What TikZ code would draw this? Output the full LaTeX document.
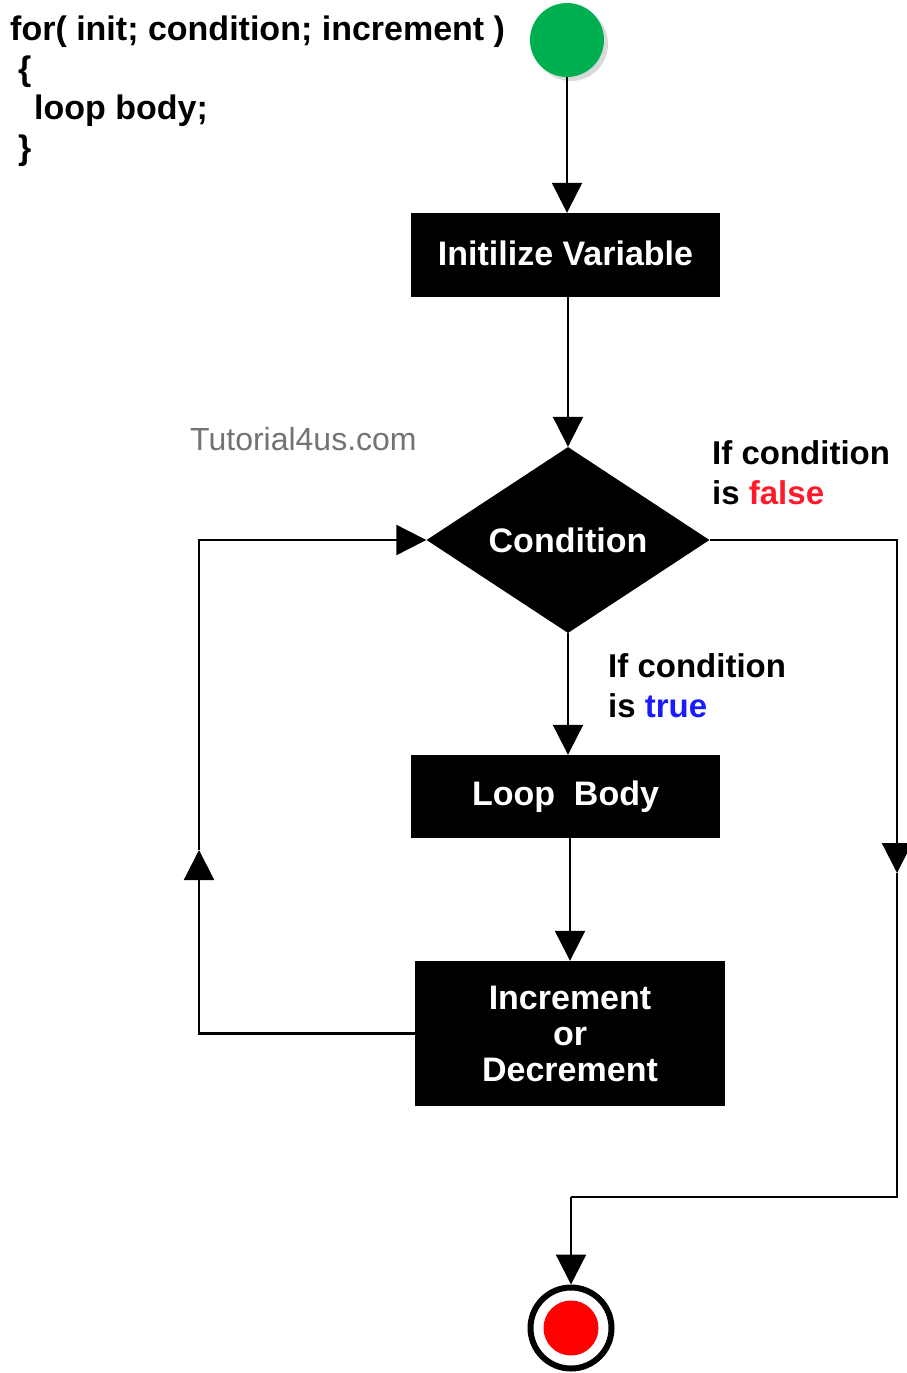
\documentclass[tikz,border=0pt]{standalone}
\usepackage{fontspec}
\setmainfont{Liberation Sans}
\usetikzlibrary{arrows.meta,shapes.geometric,shadows}
\definecolor{startgreen}{HTML}{00B050}
\definecolor{falsered}{HTML}{FF1A2A}
\definecolor{trueblue}{HTML}{1A1AFF}
\newcommand{\boxfont}{\bfseries\fontsize{34}{36}\selectfont}
\newcommand{\lblfont}{\bfseries\fontsize{33}{40}\selectfont}
\tikzset{
    block/.style={rectangle, fill=black, text=white, font=\boxfont, align=center, inner sep=0pt},
    wire/.style={line width=2.2pt},
    flow/.style={wire, -{Triangle[length=30pt,width=30pt]}},
    lbl/.style={font=\lblfont, align=left, inner sep=0pt},
}
\begin{document}
\begin{tikzpicture}[x=1pt, y=-1pt]
            \useasboundingbox (0,0) rectangle (906,1373);

            \node[font=\bfseries\fontsize{34}{39.5}\selectfont, align=left, anchor=north west, inner sep=0pt] (code) at (10,16) {for( init; condition; increment )\\\hspace*{8pt}\{\\\hspace*{24pt}loop body;\\\hspace*{8pt}\}};
            \node[font=\fontsize{32}{38}\selectfont, text=black!55, anchor=base west, inner sep=0pt] (site) at (190,450) {Tutorial4us.com};

            \node[circle, fill=startgreen, minimum size=74pt, drop shadow={shadow xshift=4pt, shadow yshift=-4pt, opacity=0.3}] (start) at (567,40) {};
            \node[block, minimum width=309pt, minimum height=84pt, text depth=4pt] (init) at (565.5,255) {Initilize Variable};
            \node[diamond, fill=black, text=white, font=\boxfont, inner sep=0pt, minimum width=283pt, minimum height=186pt] (cond) at (568,540) {Condition};
            \node[block, minimum width=309pt, minimum height=83pt] (body) at (565.5,796.5) {Loop\ \ Body};
            \node[block, minimum width=310pt, minimum height=145pt] (inc) at (570,1033.5) {Increment\\or\\Decrement};
            \node[circle, draw, line width=6pt, fill=white, minimum size=81pt, drop shadow={shadow xshift=2pt, shadow yshift=-2pt, opacity=0.25}, path picture={\fill[red] (path picture bounding box.center) circle (27.5pt);}] (stop) at (571,1328) {};

            \node[lbl, anchor=north west] (falsetxt) at (712,440) {If condition\\is \textcolor{falsered}{false}};
            \node[lbl, anchor=north west] (truetxt) at (608,653) {If condition\\is \textcolor{trueblue}{true}};

            \coordinate (rt) at (897,540);
            \coordinate (rm) at (897,873);
            \coordinate (rb) at (897,1197);
            \coordinate (eb) at (571,1197);
            \coordinate (lb) at (199,1033.5);
            \coordinate (lm) at (199,850);
            \coordinate (lt) at (199,540);

            \draw[flow] (start.south) -- (start.south |- init.north);
            \draw[flow] (init.south -| cond.north) -- (cond.north);
            \draw[flow] (cond.south) -- (cond.south |- body.north);
            \draw[flow] (inc.north |- body.south) -- (inc.north);
            \draw[flow] (cond.east) -- (rt) -- (rm);
            \draw[wire] (rm) -- (rb) -- (eb);
            \draw[flow] (eb) -- (stop.north);
            \draw[flow] (inc.west) -- (lb) -- (lm);
            \draw[flow] (lm) -- (lt) -- (cond.west);

        \end{tikzpicture}
\end{document}
